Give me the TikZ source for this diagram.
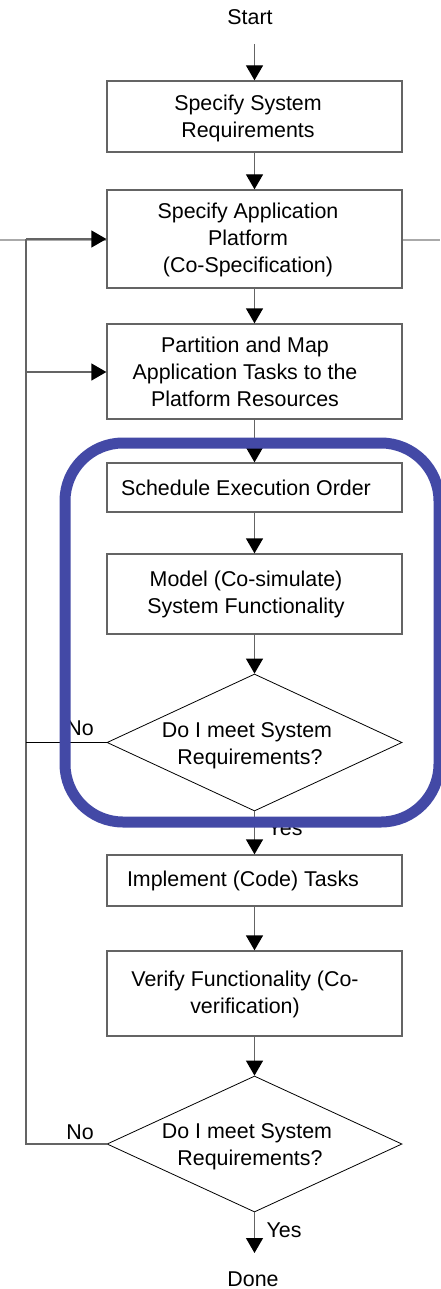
\documentclass[tikz,border=0pt]{standalone}
\usepackage{fontspec}
\setmainfont{Liberation Sans}
\usetikzlibrary{arrows.meta,shapes.geometric}
\definecolor{loopblue}{RGB}{67,73,166}
\definecolor{edgegray}{RGB}{100,100,100}
\definecolor{railgray}{RGB}{170,170,170}
\begin{document}
\begin{tikzpicture}[x=1pt,y=-1pt,
  txt/.style={font=\fontsize{21.4}{27}\selectfont, align=center, inner sep=0pt},
  stepbox/.style={draw=edgegray, line width=1.3pt, fill=white, minimum width=295pt, inner sep=0pt},
  decision/.style={diamond, draw=black, line width=0.8pt, fill=white, minimum width=295pt, minimum height=137pt, inner sep=0pt},
  flow/.style={draw=edgegray, line width=1.3pt, -{Triangle[length=15pt,width=17pt,color=black]}},
  back/.style={draw=edgegray, line width=1.3pt}
]
\useasboundingbox (0,0) rectangle (440,1289);

% grey rail crossing behind the platform box
\draw[railgray, line width=1.5pt] (0,240) coordinate (railL) -- (440,240) coordinate (railR);

% process boxes
\node[stepbox, minimum height=71pt] (req) at (254.5,116.5) {};
\node[stepbox, minimum height=98pt] (plat) at (254.5,239) {};
\node[stepbox, minimum height=95pt] (part) at (254.5,371.5) {};
\node[stepbox, minimum height=49pt] (sched) at (254.5,487.5) {};
\node[stepbox, minimum height=80pt] (model) at (254.5,594) {};
\node[decision] (meet1) at (254.5,742.5) {};
\node[stepbox, minimum height=51pt] (impl) at (254.5,880.5) {};
\node[stepbox, minimum height=85pt] (verif) at (254.5,993.5) {};
\node[decision, minimum height=136pt] (meet2) at (254.5,1144) {};

% texts
\node[txt] (start) at (250,17) {Start};
\node[txt] (done) at (253,1279) {Done};
\node[txt] (reqT) at (248,118) {Specify System\\Requirements};
\node[txt] (platT) at (248,240) {Specify Application\\Platform\\(Co-Specification)};
\node[txt] (partT) at (245,372) {Partition and Map\\Application Tasks to the\\Platform Resources};
\node[txt] (schedT) at (246,488) {Schedule Execution Order};
\node[txt] (modelT) at (246,594) {Model (Co-simulate)\\System Functionality};
\node[txt] (meet1T) at (247,746) {Do I meet System\\\hspace*{6pt}Requirements?};
\node[txt] (implT) at (243,881) {Implement (Code) Tasks};
\node[txt] (verifT) at (245,994) {Verify Functionality (Co-\\verification)};
\node[txt] (meet2T) at (247,1147) {Do I meet System\\\hspace*{6pt}Requirements?};

% main flow
\draw[flow] (254.5,44) coordinate (startEnd) -- (req.north);
\draw[flow] (req) -- (plat);
\draw[flow] (plat) -- (part);
\draw[flow] (part) -- (sched);
\draw[flow] (sched) -- (model);
\draw[flow] (model) -- (meet1);
\draw[flow] (meet1) -- (impl);
\draw[flow] (impl) -- (verif);
\draw[flow] (verif) -- (meet2);
\draw[flow] (meet2.south) -- (254.5,1253) coordinate (doneIn);

% feedback loops
\coordinate (j2) at (26,239);
\coordinate (j3) at (26,372);
\draw[back] (meet2.west) -- (meet2.west -| j2) -- (j2);
\draw[draw=black, line width=0.8pt] (meet1.west) -- (meet1.west -| j2);
\draw[flow] (j2) -- (plat.west);
\draw[flow] (j3) -- (j3 -| part.west);

% branch labels
\node[txt] (no1) at (80,728) {No};
\node[txt] (yes1) at (285,828) {Yes};
\node[txt] (no2) at (80,1132) {No};
\node[txt] (yes2) at (284,1230) {Yes};

% co-design loop highlight
\draw[loopblue, line width=11pt, rounded corners=58pt] (65,443) rectangle (439,822);
\end{tikzpicture}
\end{document}
